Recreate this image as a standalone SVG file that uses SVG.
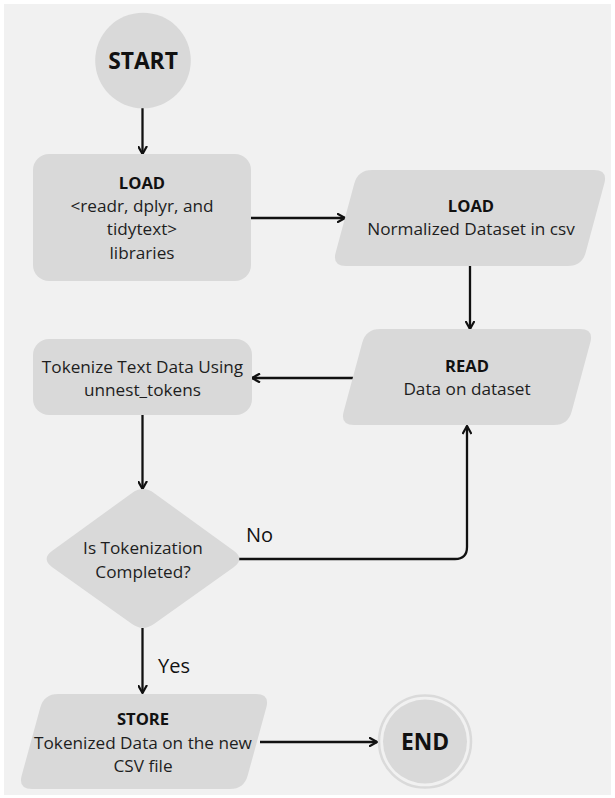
<svg xmlns="http://www.w3.org/2000/svg" width="615" height="798" viewBox="0 0 615 798">
<style>
.node{fill:#d9d9d9;}
.t{font-family:"Open Sans","Liberation Sans",sans-serif;font-size:17.2px;fill:#1e1e1e;text-anchor:middle;}
.b{font-weight:bold;fill:#111;font-size:16.6px;}
.big{font-family:"Open Sans","Liberation Sans",sans-serif;font-size:22.8px;font-weight:bold;fill:#111;text-anchor:middle;}
.lbl{font-family:"Open Sans","Liberation Sans",sans-serif;font-size:20px;fill:#111;}
.c{fill:none;stroke:#111;stroke-width:2.3;marker-end:url(#ah);}
</style>
<defs>
<marker id="ah" markerUnits="userSpaceOnUse" viewBox="0 0 10 10" markerWidth="10" markerHeight="10" refX="8.5" refY="5" orient="auto">
<path d="M0.5,0.5 L8.5,5 L0.5,9.5" fill="none" stroke="#111" stroke-width="2.2"/>
</marker>
</defs>
<rect x="0" y="0" width="615" height="798" fill="#ffffff"/>
<rect x="4" y="4" width="607" height="791" fill="#f1f1f1"/>

<g id="connectors">
<path class="c" d="M142.5,108 L142.5,154"/>
<path class="c" d="M251,218 L345,218"/>
<path class="c" d="M470,266 L470,329"/>
<path class="c" d="M353,378 L252,378"/>
<path class="c" d="M142.5,415 L142.5,489"/>
<path class="c" d="M239,559 L455,559 Q467,559 467,547 L467,426"/>
<path class="c" d="M142.5,628 L142.5,693"/>
<path class="c" d="M260,742 L377,742"/>
<text class="lbl" x="246" y="542">No</text>
<text class="lbl" x="158" y="673">Yes</text>
</g>

<g id="start">
<circle class="node" cx="143" cy="60.5" r="47.8"/>
<text class="big" x="143" y="68.5">START</text>
</g>

<g id="load-libs">
<rect class="node" x="33" y="154" width="218" height="127" rx="16"/>
<text class="t b" x="142" y="189">LOAD</text>
<text class="t" x="142" y="212">&lt;readr, dplyr, and</text>
<text class="t" x="142" y="235">tidytext&gt;</text>
<text class="t" x="142" y="259">libraries</text>
</g>

<g id="load-dataset">
<path class="node" d="M372,170 L594,170 Q608,170 604.3,183.5 L585.7,252.5 Q582,266 568,266 L346,266 Q332,266 335.7,252.5 L354.3,183.5 Q358,170 372,170 Z"/>
<text class="t b" x="471" y="212">LOAD</text>
<text class="t" x="471" y="235">Normalized Dataset in csv</text>
</g>

<g id="read">
<path class="node" d="M380,329 L580,329 Q594,329 590.3,342.5 L571.7,411.5 Q568,425 554,425 L354,425 Q340,425 343.7,411.5 L362.3,342.5 Q366,329 380,329 Z"/>
<text class="t b" x="467" y="372">READ</text>
<text class="t" x="467" y="395">Data on dataset</text>
</g>

<g id="tokenize">
<rect class="node" x="33" y="339" width="219" height="76" rx="16"/>
<text class="t" x="142.5" y="373">Tokenize Text Data Using</text>
<text class="t" x="142.5" y="396">unnest_tokens</text>
</g>

<g id="decision">
<path class="node" d="M154.3,493.2 L233.7,550.8 Q245,559 233.7,567.2 L154.3,623.7 Q143,632 131.7,623.7 L52.3,567.2 Q41,559 52.3,550.8 L131.7,493.2 Q143,485 154.3,493.2 Z"/>
<text class="t" x="143" y="554">Is Tokenization</text>
<text class="t" x="143" y="578">Completed?</text>
</g>

<g id="store">
<path class="node" d="M58,694 L256,694 Q270,694 266.3,707.5 L247.7,775.5 Q244,789 230,789 L32,789 Q18,789 21.7,775.5 L40.3,707.5 Q44,694 58,694 Z"/>
<text class="t b" x="143" y="725">STORE</text>
<text class="t" x="143" y="749">Tokenized Data on the new</text>
<text class="t" x="143" y="772">CSV file</text>
</g>

<g id="end">
<circle cx="425" cy="741.5" r="46" fill="none" stroke="#dadada" stroke-width="2.5"/>
<circle class="node" cx="425" cy="741.5" r="42"/>
<text class="big" x="425" y="750">END</text>
</g>
</svg>
